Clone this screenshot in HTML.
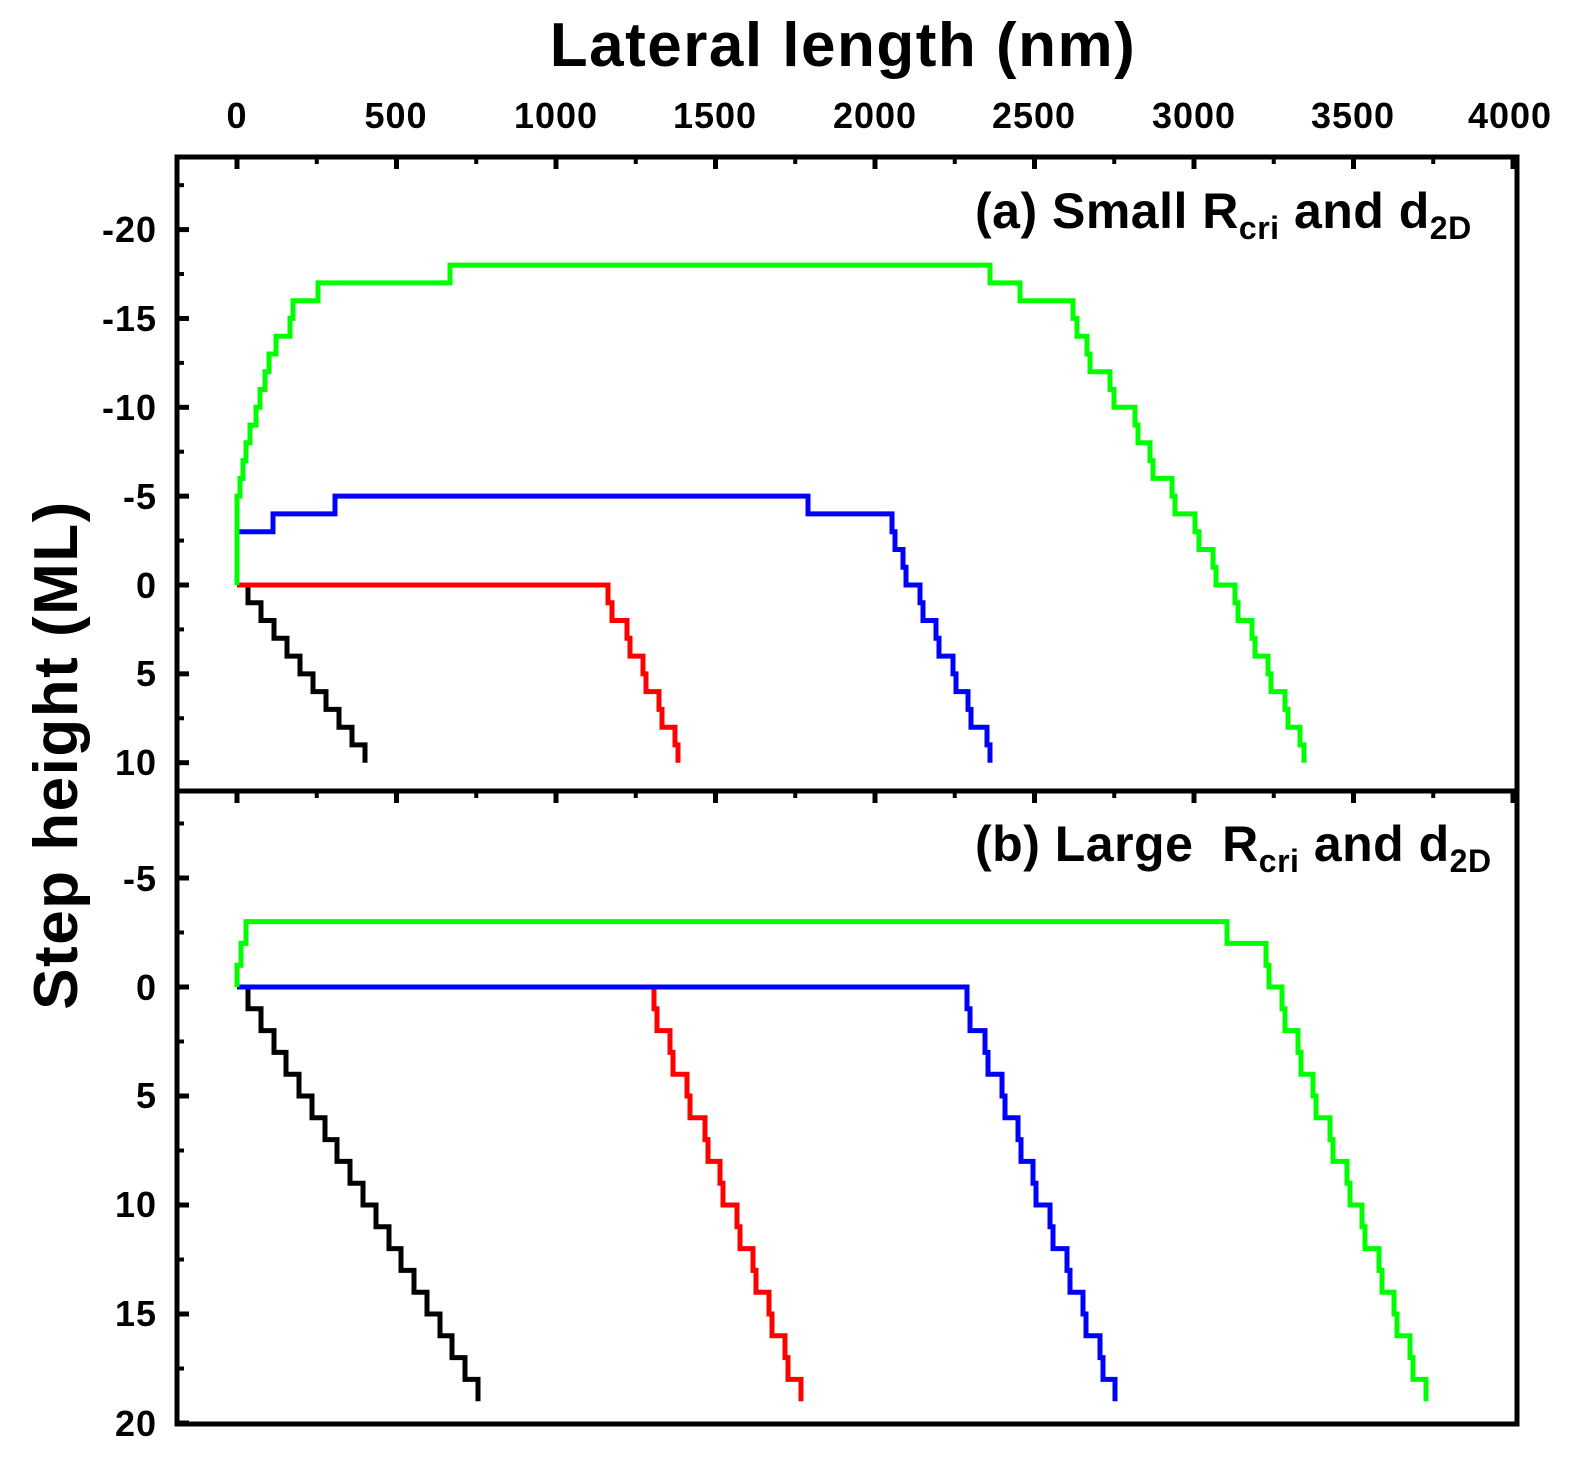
<!DOCTYPE html>
<html><head><meta charset="utf-8"><style>
html,body{margin:0;padding:0;background:#fff;}
svg{display:block;}
text{font-family:"Liberation Sans",Arial,sans-serif;font-weight:bold;fill:#000;}
</style></head><body>
<svg id="s" width="1596" height="1481" viewBox="0 0 1596 1481" xmlns="http://www.w3.org/2000/svg">
<text x="843" y="66" font-size="62" text-anchor="middle" letter-spacing="1.5">Lateral length (nm)</text>
<g font-size="36" text-anchor="middle" letter-spacing="1">
<text x="237" y="128">0</text><text x="396" y="128">500</text><text x="556" y="128">1000</text><text x="715" y="128">1500</text><text x="875" y="128">2000</text><text x="1034" y="128">2500</text><text x="1194" y="128">3000</text><text x="1353" y="128">3500</text><text x="1510" y="128">4000</text>
</g>
<text transform="translate(77,755) rotate(-90)" font-size="62" text-anchor="middle" letter-spacing="1.5">Step height (ML)</text>
<g font-size="36" text-anchor="end" letter-spacing="1">
<text x="157" y="242">-20</text><text x="157" y="331">-15</text><text x="157" y="420">-10</text><text x="157" y="509">-5</text><text x="157" y="598">0</text><text x="157" y="686">5</text><text x="157" y="775">10</text>
<text x="157" y="891">-5</text><text x="157" y="1000">0</text><text x="157" y="1108">5</text><text x="157" y="1217">10</text><text x="157" y="1326">15</text><text x="157" y="1436">20</text>
</g>
<text x="975" y="228" font-size="50" letter-spacing="0.5">(a) Small R<tspan font-size="32" dy="11">cri</tspan><tspan dy="-11"> and d</tspan><tspan font-size="32" dy="11">2D</tspan></text>
<text x="975" y="861" font-size="50" letter-spacing="0.5">(b) Large &#160;R<tspan font-size="32" dy="11">cri</tspan><tspan dy="-11"> and d</tspan><tspan font-size="32" dy="11">2D</tspan></text>
<g id="ax" stroke="#000" fill="none"></g>
<g id="dat" fill="none" stroke-width="5" stroke-linejoin="miter"></g>
</svg>
<script>
var NS="http://www.w3.org/2000/svg";
function X(v){return 237+v*0.319;}
function add(g,tag,a){var e=document.createElementNS(NS,tag);for(var k in a)e.setAttribute(k,a[k]);document.getElementById(g).appendChild(e);}
add('ax','rect',{x:177,y:157,width:1340,height:1267,'stroke-width':5});
add('ax','line',{x1:177,y1:791,x2:1517,y2:791,'stroke-width':5});
[157,791].forEach(function(y0){
 for(var v=0;v<=4000;v+=250){var maj=v%500==0;add('ax','line',{x1:X(v),y1:y0,x2:X(v),y2:y0+(maj?12:7),'stroke-width':maj?5:4});}
});
function ty(v){return 585+v*17.77;}
for(var v=-22.5;v<=11.5;v+=2.5){var y=ty(v);if(y<160||y>789)continue;var maj=v%5==0;add('ax','line',{x1:177,y1:y,x2:177+(maj?12:7),y2:y,'stroke-width':maj?5:4});}
function by(v){return 987+v*21.8;}
for(var v=-7.5;v<=20;v+=2.5){var y=by(v);if(y<795||y>1424)continue;var maj=v%5==0;add('ax','line',{x1:177,y1:y,x2:177+(maj?12:7),y2:y,'stroke-width':maj?5:4});}
function path(col,pts,f){var d='';pts.forEach(function(p,i){d+=(i?'L':'M')+p[0]+','+f(p[1]).toFixed(1);});add('dat','path',{d:d,stroke:col});}
function desc(xs,v0,s,start){var p=[];var v=v0;p.push([start,v]);xs.forEach(function(x){p.push([x,v]);v=v+s;p.push([x,v]);});return p;}
var bk=[];for(var k=0;k<10;k++)bk.push(248+k*13);
path('#000',desc(bk,0,1,237),ty);
path('#ff0000',[[237,0],[608,0],[608,1],[612,1],[612,2],[627,2],[627,3],[630,3],[630,4],[643,4],[643,5],[646,5],[646,6],[659,6],[659,7],[662,7],[662,8],[675,8],[675,9],[678,9],[678,10]],ty);
var bl=[[237,-3],[273,-3],[273,-4],[335,-4],[335,-5],[808,-5],[808,-4],[892,-4]];
[[892,-3],[895,-2],[903,-1],[906,0],[920,1],[923,2],[936,3],[939,4],[953,5],[956,6],[968,7],[971,8],[987,9],[990,10]].forEach(function(p){var prev=bl[bl.length-1];bl.push([p[0],prev[1]]);bl.push([p[0],p[1]]);});
path('#0000ff',bl,ty);
var gr=[[237,0],[237,-5],[240,-5],[240,-6],[243,-6],[243,-7],[246,-7],[246,-8],[250,-8],[250,-9],[256,-9],[256,-10],[260,-10],[260,-11],[265,-11],[265,-12],[269,-12],[269,-13],[276,-13],[276,-14],[290,-14],[290,-15],[293,-15],[293,-16],[318,-16],[318,-17],[321,-17],[450,-17],[450,-18],[990,-18],[990,-17],[1020,-17],[1020,-16],[1073,-16]];
[[1073,-15],[1077,-14],[1087,-13],[1090,-12],[1110,-11],[1114,-10],[1135,-9],[1138,-8],[1150,-7],[1153,-6],[1172,-5],[1175,-4],[1195,-3],[1199,-2],[1213,-1],[1216,0],[1235,1],[1238,2],[1252,3],[1255,4],[1268,5],[1271,6],[1285,7],[1288,8],[1300,9],[1304,10]].forEach(function(p){var prev=gr[gr.length-1];gr.push([p[0],prev[1]]);gr.push([p[0],p[1]]);});
path('#00ff00',gr,ty);
var bk2=[];for(var k=0;k<19;k++)bk2.push(Math.round(248+k*12.78));
path('#000',desc(bk2,0,1,237),by);
function stairs(start,xs,endv,col){var p=[[start,0]];var v=0;for(var i=0;i<xs.length;i++){var x=xs[i];p.push([x,v]);var nv=Math.min(v+1,endv);p.push([x,nv]);v=nv;if(v<endv){p.push([x+3,v]);nv=Math.min(v+1,endv);p.push([x+3,nv]);v=nv;}}path(col,p,by);}
stairs(237,[654,670,687,705,720,737,753,769,785,801],19,'#ff0000');
stairs(237,[967,985,1002,1018,1033,1050,1067,1083,1100,1115],19,'#0000ff');
var g2=[[237,0],[237,-1],[241,-1],[241,-2],[246,-2],[246,-3],[253,-3],[1227,-3],[1227,-2],[1266,-2]];
var xs=[1266,1282,1298,1313,1330,1347,1362,1379,1394,1410,1426];var v=-2;
xs.forEach(function(x){g2.push([x,v]);v+=1;g2.push([x,v]);if(v<19){g2.push([x+3,v]);v+=1;g2.push([x+3,v]);}});
path('#00ff00',g2,by);
</script>
</body></html>
